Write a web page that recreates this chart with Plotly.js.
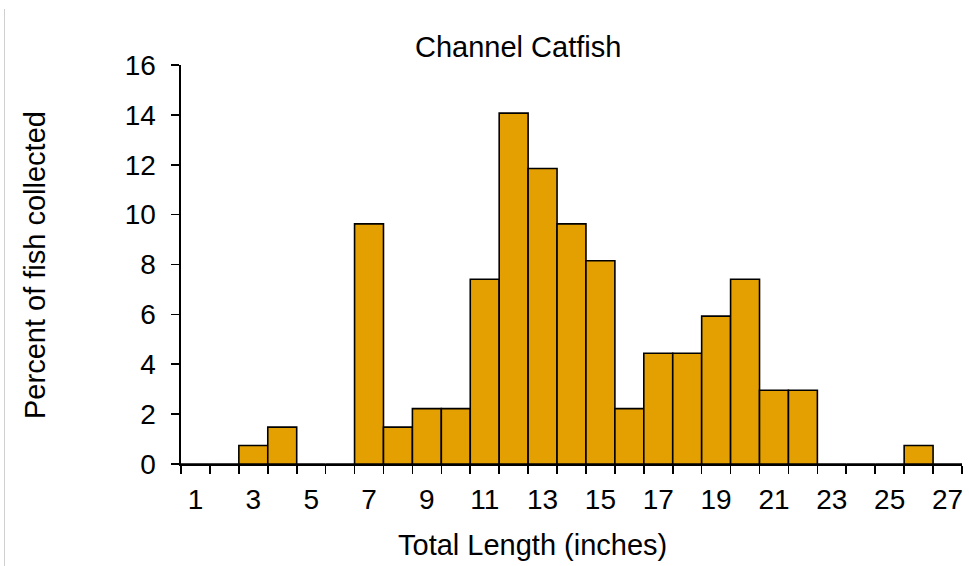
<!DOCTYPE html>
<html>
<head>
<meta charset="utf-8">
<script src="https://cdn.plot.ly/plotly-3.0.1.min.js"></script>
<style>
html,body{margin:0;padding:0;background:#fff;}
#chart{width:969px;height:566px;position:relative;}
#edge{position:absolute;left:4px;top:9px;width:1px;height:557px;background:#d0d0d0;z-index:10;}
</style>
</head>
<body>
<div id="chart"><div id="edge"></div></div>
<script>
const lengths = [1,2,3,4,5,6,7,8,9,10,11,12,13,14,15,16,17,18,19,20,21,22,23,24,25,26,27];
const percents = [0,0,0.74,1.48,0,0,9.63,1.48,2.22,2.22,7.41,14.07,11.85,9.63,8.15,2.22,4.44,4.44,5.93,7.41,2.96,2.96,0,0,0,0.74,0];
const xTickVals = [1,3,5,7,9,11,13,15,17,19,21,23,25,27];
const yTickVals = [0,2,4,6,8,10,12,14,16];
const chartTitle = "Channel Catfish";
const xTitle = "Total Length (inches)";
const yTitle = "Percent of fish collected";

const font = "Liberation Sans, Arial, sans-serif";
const trace = {
  type: 'bar',
  x: lengths,
  y: percents,
  width: 1,
  marker: {color: '#E4A000', line: {color: '#000', width: 1.6}},
  hoverinfo: 'x+y'
};
const layout = {
  width: 969, height: 566,
  margin: {l: 181, r: 7, t: 65, b: 102},
  paper_bgcolor: '#fff', plot_bgcolor: '#fff',
  showlegend: false,
  font: {family: font, color: '#000', size: 28},
  xaxis: {
    range: [0.5, 27.5],
    tickmode: 'array', tickvals: xTickVals,
    ticks: '', ticklabelstandoff: 10,
    showgrid: false, zeroline: false,
    showline: true, linecolor: '#000', linewidth: 1.6,
    tickfont: {size: 28, family: font},
    minor: {tickmode: 'linear', tick0: 0.5, dtick: 1, ticks: 'outside', ticklen: 8, tickwidth: 1.6, tickcolor: '#000', showgrid: false}
  },
  yaxis: {
    range: [0, 16],
    tickmode: 'array', tickvals: yTickVals,
    ticks: 'outside', ticklen: 8, tickwidth: 1.6, tickcolor: '#000',
    ticklabelstandoff: 10,
    showgrid: false, zeroline: false,
    showline: true, linecolor: '#000', linewidth: 1.6,
    tickfont: {size: 28, family: font}
  },
  annotations: [
    {text: chartTitle, xref: 'paper', yref: 'paper', x: (518-181)/781, y: (464-47)/399, xanchor: 'center', yanchor: 'middle', showarrow: false, font: {size: 29, family: font}},
    {text: xTitle, xref: 'paper', yref: 'paper', x: (532-181)/781, y: (464-545)/399, xanchor: 'center', yanchor: 'middle', showarrow: false, font: {size: 29, family: font}},
    {text: yTitle, xref: 'paper', yref: 'paper', x: (35-181)/781, y: (464-265)/399, xanchor: 'center', yanchor: 'middle', textangle: -90, showarrow: false, font: {size: 29, family: font}}
  ]
};
Plotly.newPlot('chart', [trace], layout, {displayModeBar: false, staticPlot: true});
</script>
</body>
</html>
